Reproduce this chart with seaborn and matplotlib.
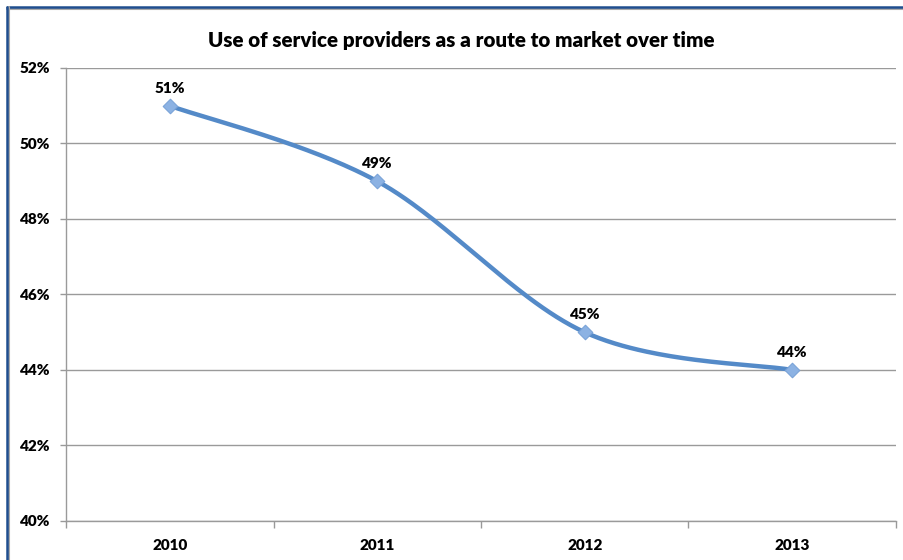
import numpy as np
import pandas as pd
import matplotlib
matplotlib.use("Agg")
import matplotlib.pyplot as plt
import seaborn as sns
from matplotlib.lines import Line2D
from matplotlib.ticker import FixedLocator

years = ["2010", "2011", "2012", "2013"]
values = [51, 49, 45, 44]
labels = ["51%", "49%", "45%", "44%"]
y_ticks = [40, 42, 44, 46, 48, 50, 52]
title = "Use of service providers as a route to market over time"

sns.set_theme(style="white")
plt.rcParams["font.family"] = ["Lato", "DejaVu Sans"]
WEIGHT = "heavy"

fig = plt.figure(figsize=(9.04, 5.6), dpi=100)
W, H = 904, 560
ax = fig.add_axes([66 / W, (H - 521) / H, 830 / W, 453 / H])

# Excel-style smoothed curve (Catmull-Rom Bezier) computed from the data
xs = np.arange(len(values), dtype=float)
ys = np.array(values, dtype=float)
P = np.column_stack([xs, ys])
Pext = np.vstack([P[0], P, P[-1]])
curve = []
t = np.linspace(0, 1, 60)
for i in range(len(P) - 1):
    p0, p1 = Pext[i + 1], Pext[i + 2]
    c1 = p0 + (Pext[i + 2] - Pext[i]) / 6
    c2 = p1 - (Pext[i + 3] - Pext[i + 1]) / 6
    seg = ((1 - t) ** 3)[:, None] * p0 + (3 * (1 - t) ** 2 * t)[:, None] * c1 \
        + (3 * (1 - t) * t ** 2)[:, None] * c2 + (t ** 3)[:, None] * p1
    curve.append(seg)
curve = np.vstack(curve)
smooth = pd.DataFrame({"x": curve[:, 0], "y": curve[:, 1]})
pts = pd.DataFrame({"x": xs, "y": ys})

sns.lineplot(data=smooth, x="x", y="y", ax=ax, color="#548AC8", lw=3.2,
             sort=False, estimator=None, zorder=3)
sns.scatterplot(data=pts, x="x", y="y", ax=ax, marker="D", s=55,
                color="#8CB2E3", edgecolor="#7AA3D8", linewidth=0.8, zorder=4)

for xi, yi, lab in zip(xs, ys, labels):
    ax.annotate(lab, (xi, yi), xytext=(0, 8), textcoords="offset points",
                ha="center", va="bottom", fontsize=11, fontweight=WEIGHT,
                color="black")

ax.set_xlim(-0.5, len(values) - 0.5)
ax.set_ylim(40, 52)
ax.set_yticks(y_ticks)
ax.set_yticklabels([f"{v}%" for v in y_ticks], fontsize=11, fontweight=WEIGHT)
ax.set_xticks(xs)
ax.set_xticklabels(years, fontsize=11, fontweight=WEIGHT)
ax.xaxis.set_minor_locator(FixedLocator(np.arange(-0.5, len(values), 1.0)))
ax.tick_params(axis="x", which="major", length=0, pad=13, colors="black")
ax.tick_params(axis="x", which="minor", length=5, width=1, color="#999999",
               direction="out", bottom=True)
ax.tick_params(axis="y", length=4.5, width=1, color="#999999", direction="out",
               left=True, pad=7, colors="black")
ax.yaxis.grid(True, color="#9A9A9A", lw=1)
ax.xaxis.grid(False)
for s in ["top", "right"]:
    ax.spines[s].set_visible(False)
for s in ["left", "bottom"]:
    ax.spines[s].set_color("#9A9A9A")
    ax.spines[s].set_linewidth(1)
ax.set_xlabel("")
ax.set_ylabel("")

fig.text(461 / W, 1 - 40 / H, title, ha="center", va="center",
         fontsize=14.8, fontweight=WEIGHT, color="black")

# outer frame (top and left visible edges)
fig.add_artist(Line2D([7 / W, 1], [1 - 8.5 / H, 1 - 8.5 / H], color="#AAAAAA",
                      lw=1.5, transform=fig.transFigure))
fig.add_artist(Line2D([7 / W, 1], [1 - 7 / H, 1 - 7 / H], color="#1F4E8F",
                      lw=1.8, transform=fig.transFigure))
fig.add_artist(Line2D([8.5 / W, 8.5 / W], [0, 1 - 7 / H], color="#AAAAAA",
                      lw=1.5, transform=fig.transFigure))
fig.add_artist(Line2D([7 / W, 7 / W], [0, 1 - 7 / H], color="#1F4E8F",
                      lw=1.8, transform=fig.transFigure))

fig.savefig("out.png", dpi=100)
